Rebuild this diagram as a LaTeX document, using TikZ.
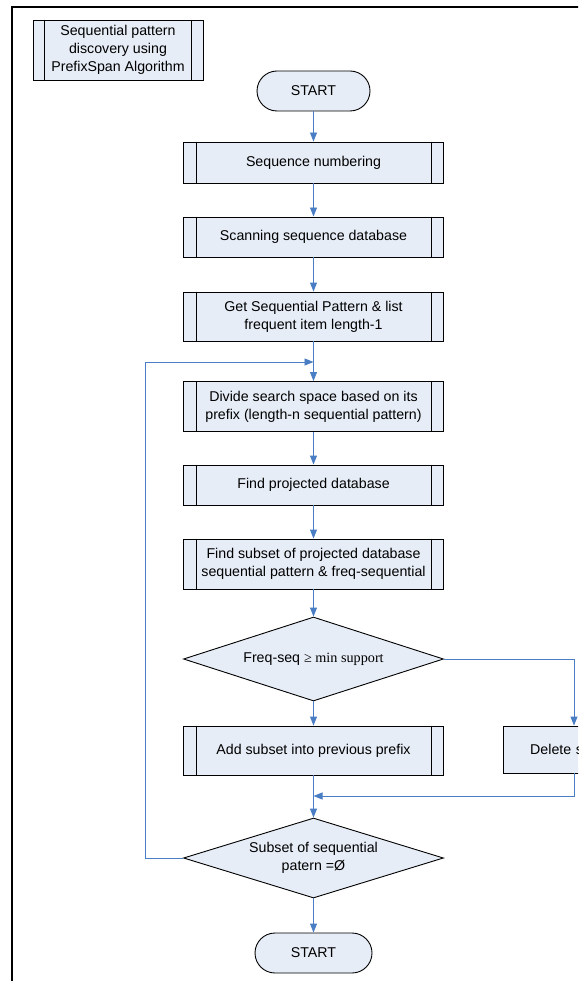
\documentclass[tikz,border=0pt]{standalone}
\usepackage{fontspec}
\setmainfont{Liberation Sans}
\newfontfamily\serifface{Liberation Serif}
\usetikzlibrary{arrows.meta,shapes.geometric}
\definecolor{boxfill}{HTML}{E7EDF7}
\definecolor{flowblue}{HTML}{4A7EC4}
\tikzset{
  x=1pt, y=-1pt,
  base/.style={draw=black, fill=boxfill, line width=0.9pt, inner sep=0pt,
    align=center, font=\fontsize{14.2}{18}\selectfont},
  procbox/.style={base, rectangle, minimum width=260pt},
  termbox/.style={base, rectangle, rounded corners=20pt, minimum height=40pt},
  decision/.style={base, diamond, aspect=3.1, minimum width=260pt, minimum height=84pt},
  flow/.style={draw=flowblue, line width=0.9pt, -{Triangle[length=9pt,width=7pt]}},
  bar/.style={draw=black, line width=0.9pt}
}
\newcommand{\sidebars}[2]{%
  \draw[bar] ([xshift=#2]#1.north west) -- ([xshift=#2]#1.south west);
  \draw[bar] ([xshift=-#2]#1.north east) -- ([xshift=-#2]#1.south east);}
\begin{document}
\begin{tikzpicture}
\useasboundingbox (0,0) rectangle (578,981);
\clip (0,0) rectangle (578,981);
\fill[white] (0,0) rectangle (578,981);
% outer frame
\draw[line width=2pt] (12,1100) -- (12,7) -- (700,7);

% title block
\node[base, minimum width=170pt, minimum height=60pt] (title) at (118,50)
  {Sequential pattern\\discovery using\\PrefixSpan Algorithm};
\sidebars{title}{12pt}

% main column
\node[termbox, minimum width=113pt] (start) at (313.5,91) {START};
\node[procbox, minimum height=41pt] (b1) at (313.5,162.5) {Sequence numbering};
\node[procbox, minimum height=40pt] (b2) at (313.5,237) {Scanning sequence database};
\node[procbox, minimum height=49pt] (b3) at (313.5,316.5) {Get Sequential Pattern \& list\\frequent item length-1};
\node[procbox, minimum height=50pt] (b4) at (313.5,406.5) {Divide search space based on its\\prefix (length-n sequential pattern)};
\node[procbox, minimum height=40pt] (b5) at (313.5,485) {Find projected database};
\node[procbox, minimum height=50pt] (b6) at (313.5,564) {Find subset of projected database\\sequential pattern \& freq-sequential};
\node[decision] (d1) at (313.5,659) {Freq-seq {\serifface ≥ min support}};
\node[procbox, minimum height=49pt] (b7) at (313.5,750.5) {Add subset into previous prefix};
\node[base, rectangle, minimum width=142pt, minimum height=47pt, text width=120pt] (b8) at (574,749.5) {Delete subset};
\node[decision, minimum height=80pt] (d2) at (313.5,858) {Subset of sequential\\patern =Ø};
\node[termbox, minimum width=117pt] (stop) at (313.5,953) {START};

\foreach \n in {b1,b2,b3,b4,b5,b6,b7}{\sidebars{\n}{13pt}}

% connectors
\coordinate (loop) at (313.5,362);
\coordinate (merge) at (313.5,796);
\draw[flow] (start) -- (b1);
\draw[flow] (b1) -- (b2);
\draw[flow] (b2) -- (b3);
\draw[flow] (b3) -- (b4);
\draw[flow] (b4) -- (b5);
\draw[flow] (b5) -- (b6);
\draw[flow] (b6) -- (d1);
\draw[flow] (d1) -- (b7);
\draw[flow] (d1.east) -| (b8.north);
\draw[flow] (b7) -- (d2);
\draw[flow] (b8.south) |- (merge);
\draw[flow] (d2.west) -- (145,858) |- (loop);
\draw[flow] (d2) -- (stop);
\end{tikzpicture}
\end{document}
